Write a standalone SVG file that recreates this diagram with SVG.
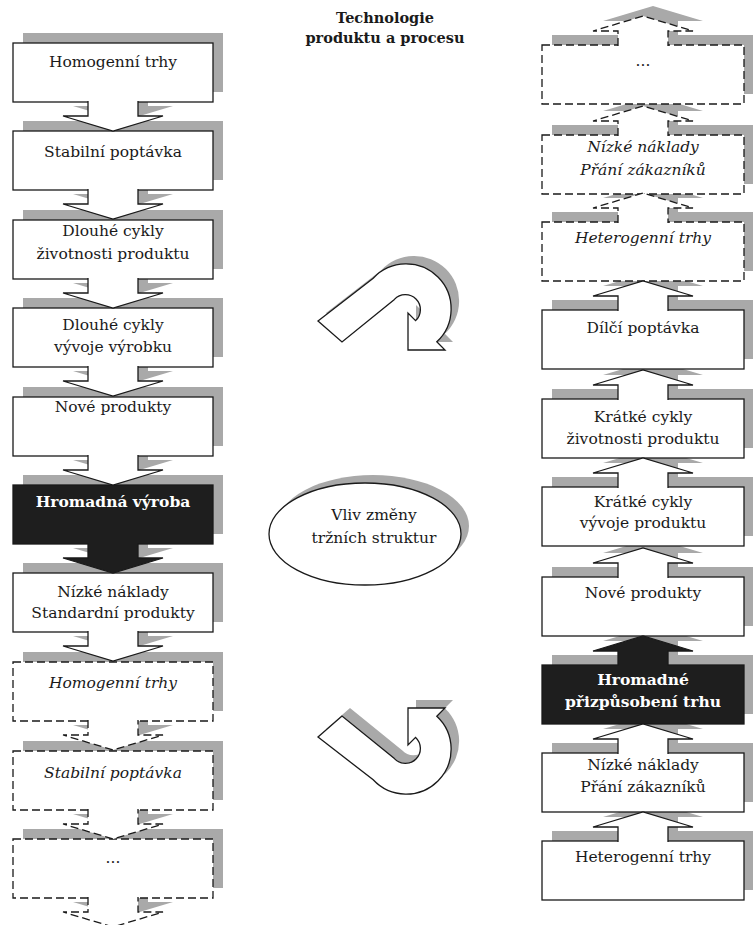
<svg xmlns="http://www.w3.org/2000/svg" width="753" height="925" viewBox="0 0 753 925">
<defs>
<style>
.bx{fill:#fff;stroke:#1a1a1a;stroke-width:1.3}
.dk{fill:#1e1e1e;stroke:#1a1a1a;stroke-width:1.3}
.ds{stroke-dasharray:8 4}
.sh{fill:#a9a9a9;stroke:none}
.t{font-family:"DejaVu Serif","Liberation Serif",serif;font-size:15.5px;text-anchor:middle;fill:#1a1a1a}
.it{font-style:italic}
.wb{fill:#fff;font-weight:bold}
.ttl{font-family:"DejaVu Serif","Liberation Serif",serif;font-size:14.5px;font-weight:bold;text-anchor:middle;fill:#1a1a1a}
</style>
<path id="curve" d="M 318,321 L 373.2,278.2 A 45 45 0 1 1 436.8,341.8 L 445,350 L 408,350 L 408,313 L 415.6,320.6 A 15 15 0 1 0 394.4,299.4 L 342,342 Z"/>
</defs>
<rect width="753" height="925" fill="#fff"/>

<g id="shadows" class="sh" transform="translate(10,-10)">
<rect x="13" y="43" width="200" height="59"/>
<rect x="13" y="131" width="200" height="59"/>
<rect x="13" y="220" width="200" height="59"/>
<rect x="13" y="308" width="200" height="59"/>
<rect x="13" y="397" width="200" height="59"/>
<rect x="13" y="485" width="200" height="59"/>
<rect x="13" y="573" width="200" height="59"/>
<rect x="13" y="662" width="200" height="59"/>
<rect x="13" y="751" width="200" height="59"/>
<rect x="13" y="839" width="200" height="59"/>
<path d="M88,101 V116 H63 L113,131 L163,116 H138 V101 Z"/>
<path d="M88,189 V204 H63 L113,219 L163,204 H138 V189 Z"/>
<path d="M88,278 V293 H63 L113,308 L163,293 H138 V278 Z"/>
<path d="M88,366 V381 H63 L113,396 L163,381 H138 V366 Z"/>
<path d="M88,455 V470 H63 L113,485 L163,470 H138 V455 Z"/>
<path d="M88,543 V558 H63 L113,573 L163,558 H138 V543 Z"/>
<path d="M88,631 V646 H63 L113,661 L163,646 H138 V631 Z"/>
<path d="M88,720 V735 H63 L113,750 L163,735 H138 V720 Z"/>
<path d="M88,809 V824 H63 L113,839 L163,824 H138 V809 Z"/>
<path d="M88,897 V912 H63 L113,927 L163,912 H138 V897 Z"/>
<rect x="542" y="45" width="202" height="59"/>
<rect x="542" y="135" width="202" height="59"/>
<rect x="542" y="222" width="202" height="59"/>
<rect x="542" y="310" width="202" height="59"/>
<rect x="542" y="399" width="202" height="59"/>
<rect x="542" y="487" width="202" height="59"/>
<rect x="542" y="577" width="202" height="59"/>
<rect x="542" y="665" width="202" height="59"/>
<rect x="542" y="753" width="202" height="59"/>
<rect x="542" y="841" width="202" height="59"/>
<path d="M618,46 V31 H593 L643,16 L693,31 H668 V46 Z"/>
<path d="M618,136 V121 H593 L643,106 L693,121 H668 V136 Z"/>
<path d="M618,223 V208 H593 L643,193 L693,208 H668 V223 Z"/>
<path d="M618,311 V296 H593 L643,281 L693,296 H668 V311 Z"/>
<path d="M618,400 V385 H593 L643,370 L693,385 H668 V400 Z"/>
<path d="M618,488 V473 H593 L643,458 L693,473 H668 V488 Z"/>
<path d="M618,578 V563 H593 L643,548 L693,563 H668 V578 Z"/>
<path d="M618,666 V651 H593 L643,636 L693,651 H668 V666 Z"/>
<path d="M618,754 V739 H593 L643,724 L693,739 H668 V754 Z"/>
<path d="M618,842 V827 H593 L643,812 L693,827 H668 V842 Z"/>
</g>
<g id="shadows-mid" class="sh" transform="translate(8,-8)">
<ellipse cx="365" cy="534" rx="96" ry="51"/>
<use href="#curve"/>
<use href="#curve" transform="translate(0,1058) scale(1,-1)"/>
</g>

<g id="title">
<text class="ttl" x="385" y="23">Technologie</text>
<text class="ttl" x="385" y="43">produktu a procesu</text>
</g>

<g id="L1"><rect class="bx" x="13" y="43" width="200" height="59"/><text class="t" x="113" y="67">Homogenní trhy</text></g>
<g id="L2"><rect class="bx" x="13" y="131" width="200" height="59"/><text class="t" x="113" y="157">Stabilní poptávka</text></g>
<g id="L3"><rect class="bx" x="13" y="220" width="200" height="59"/><text class="t" x="113" y="236">Dlouhé cykly</text><text class="t" x="113" y="259">životnosti produktu</text></g>
<g id="L4"><rect class="bx" x="13" y="308" width="200" height="59"/><text class="t" x="113" y="330">Dlouhé cykly</text><text class="t" x="113" y="352">vývoje výrobku</text></g>
<g id="L5"><rect class="bx" x="13" y="397" width="200" height="59"/><text class="t" x="113" y="412">Nové produkty</text></g>
<g id="L6"><rect class="dk" x="13" y="485" width="200" height="59"/><text class="t wb" x="113" y="507">Hromadná výroba</text></g>
<g id="L7"><rect class="bx" x="13" y="573" width="200" height="59"/><text class="t" x="113" y="597">Nízké náklady</text><text class="t" x="113" y="618">Standardní produkty</text></g>
<g id="L8"><rect class="bx ds" x="13" y="662" width="200" height="59"/><text class="t it" x="113" y="688">Homogenní trhy</text></g>
<g id="L9"><rect class="bx ds" x="13" y="751" width="200" height="59"/><text class="t it" x="113" y="778">Stabilní poptávka</text></g>
<g id="L10"><rect class="bx ds" x="13" y="839" width="200" height="59"/><text class="t" x="113" y="863">...</text></g>

<g id="R1"><rect class="bx ds" x="542" y="45" width="202" height="59"/><text class="t" x="643" y="66">...</text></g>
<g id="R2"><rect class="bx ds" x="542" y="135" width="202" height="59"/><text class="t it" x="643" y="152">Nízké náklady</text><text class="t it" x="643" y="175">Přání zákazníků</text></g>
<g id="R3"><rect class="bx ds" x="542" y="222" width="202" height="59"/><text class="t it" x="643" y="243">Heterogenní trhy</text></g>
<g id="R4"><rect class="bx" x="542" y="310" width="202" height="59"/><text class="t" x="643" y="333">Dílčí poptávka</text></g>
<g id="R5"><rect class="bx" x="542" y="399" width="202" height="59"/><text class="t" x="643" y="422">Krátké cykly</text><text class="t" x="643" y="444">životnosti produktu</text></g>
<g id="R6"><rect class="bx" x="542" y="487" width="202" height="59"/><text class="t" x="643" y="507">Krátké cykly</text><text class="t" x="643" y="528">vývoje produktu</text></g>
<g id="R7"><rect class="bx" x="542" y="577" width="202" height="59"/><text class="t" x="643" y="598">Nové produkty</text></g>
<g id="R8"><rect class="dk" x="542" y="665" width="202" height="59"/><text class="t wb" x="643" y="685">Hromadné</text><text class="t wb" x="643" y="707">přizpůsobení trhu</text></g>
<g id="R9"><rect class="bx" x="542" y="753" width="202" height="59"/><text class="t" x="643" y="770">Nízké náklady</text><text class="t" x="643" y="792">Přání zákazníků</text></g>
<g id="R10"><rect class="bx" x="542" y="841" width="202" height="59"/><text class="t" x="643" y="862">Heterogenní trhy</text></g>

<g id="M1"><ellipse class="bx" cx="365" cy="534" rx="96" ry="51"/><text class="t" x="374" y="520">Vliv změny</text><text class="t" x="374" y="543">tržních struktur</text></g>
<g id="C1"><use href="#curve" class="bx"/></g>
<g id="C2"><use href="#curve" class="bx" transform="translate(0,1058) scale(1,-1)"/></g>

<g id="connectors">
<path class="bx" d="M88,101 V116 H63 L113,131 L163,116 H138 V101"/>
<path class="bx" d="M88,189 V204 H63 L113,219 L163,204 H138 V189"/>
<path class="bx" d="M88,278 V293 H63 L113,308 L163,293 H138 V278"/>
<path class="bx" d="M88,366 V381 H63 L113,396 L163,381 H138 V366"/>
<path class="bx" d="M88,455 V470 H63 L113,485 L163,470 H138 V455"/>
<path class="dk" d="M88,543 V558 H63 L113,573 L163,558 H138 V543"/>
<path class="bx" d="M88,631 V646 H63 L113,661 L163,646 H138 V631"/>
<path class="bx ds" d="M88,720 V735 H63 L113,750 L163,735 H138 V720"/>
<path class="bx ds" d="M88,809 V824 H63 L113,839 L163,824 H138 V809"/>
<path class="bx ds" d="M88,897 V912 H63 L113,927 L163,912 H138 V897"/>
<path class="bx ds" d="M618,46 V31 H593 L643,16 L693,31 H668 V46"/>
<path class="bx ds" d="M618,136 V121 H593 L643,106 L693,121 H668 V136"/>
<path class="bx ds" d="M618,223 V208 H593 L643,193 L693,208 H668 V223"/>
<path class="bx" d="M618,311 V296 H593 L643,281 L693,296 H668 V311"/>
<path class="bx" d="M618,400 V385 H593 L643,370 L693,385 H668 V400"/>
<path class="bx" d="M618,488 V473 H593 L643,458 L693,473 H668 V488"/>
<path class="bx" d="M618,578 V563 H593 L643,548 L693,563 H668 V578"/>
<path class="dk" d="M618,666 V651 H593 L643,636 L693,651 H668 V666"/>
<path class="bx" d="M618,754 V739 H593 L643,724 L693,739 H668 V754"/>
<path class="bx" d="M618,842 V827 H593 L643,812 L693,827 H668 V842"/>
</g>
</svg>
